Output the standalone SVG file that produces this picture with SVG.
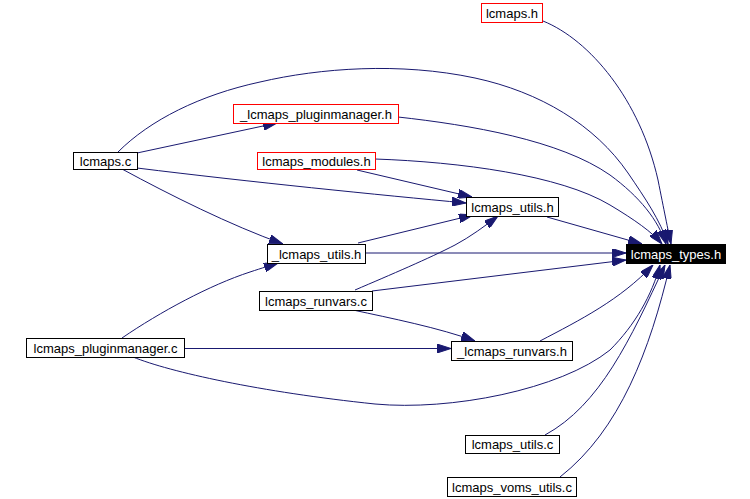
<svg xmlns="http://www.w3.org/2000/svg" width="750" height="499" viewBox="0 0 750 499">
<style>
.n rect{fill:#fff;stroke:#000;stroke-width:1}
.n.red rect{stroke:#f00}
.n text{font-family:"Liberation Sans",Arial,sans-serif;font-size:13px;text-anchor:middle;fill:#000}
#types rect{fill:#000;stroke:#000}
#types text{fill:#fff}
#edges path{fill:none;stroke:#191970;stroke-width:1;marker-end:url(#ah)}
</style>
<defs>
<marker id="ah" viewBox="0 0 14 9" refX="14" refY="4.5" markerWidth="14" markerHeight="9" markerUnits="userSpaceOnUse" orient="auto">
<path d="M0,0 L14,4.5 L0,9 z" fill="#191970" stroke="#191970"/>
</marker>
</defs>
<rect width="750" height="499" fill="#fff"/>
<g id="edges">
<path d="M543,21 C590,40 640,100 658,180 C664,210 668,230 671,244"/>
<path d="M118,152 C150,120 200,95 260,82 C320,68 400,62 475,78 C540,92 595,125 628,173 C645,198 660,220 668,244"/>
<path d="M137,153 L277,123"/>
<path d="M137,168 C250,182 380,195 466,203"/>
<path d="M122,169 C170,195 230,225 283,244"/>
<path d="M398,117 C470,125 560,140 610,175 C640,197 658,220 666,244"/>
<path d="M375,159 C460,162 560,175 610,205 C635,220 652,232 662,244"/>
<path d="M357,170 L472,197"/>
<path d="M547,217 L642,244"/>
<path d="M365,253 L626,253"/>
<path d="M358,243 L473,215"/>
<path d="M355,290 C390,275 430,258 455,245 C470,237 485,226 498,216"/>
<path d="M372,291 L626,260"/>
<path d="M353,310 C390,318 440,328 475,341"/>
<path d="M122,338 C160,312 210,285 250,272 C262,268 272,265 278,263"/>
<path d="M184,348.5 L451,348.5"/>
<path d="M133,357 C170,372 260,392 375,404 C450,411 560,390 610,350 C635,325 652,295 660,265"/>
<path d="M540,341 C580,320 620,300 653,265"/>
<path d="M545,435 C600,405 630,340 665,265"/>
<path d="M560,477 C620,430 650,350 670,265"/>
</g>
<g id="lcmaps_h" class="n red"><rect x="481.5" y="3.5" width="61" height="19"/><text x="512" y="18">lcmaps.h</text></g>
<g id="lcmaps_c" class="n"><rect x="73.5" y="152.5" width="64" height="17"/><text x="105.5" y="166">lcmaps.c</text></g>
<g id="_lcmaps_pluginmanager_h" class="n red"><rect x="233.5" y="104.5" width="165" height="19"/><text x="316" y="119">_lcmaps_pluginmanager.h</text></g>
<g id="lcmaps_modules_h" class="n red"><rect x="257.5" y="152.5" width="118" height="17"/><text x="316.5" y="166">lcmaps_modules.h</text></g>
<g id="lcmaps_utils_h" class="n"><rect x="466.5" y="197.5" width="92" height="19"/><text x="512.5" y="212">lcmaps_utils.h</text></g>
<g id="_lcmaps_utils_h" class="n"><rect x="267.5" y="244.5" width="98" height="19"/><text x="316.5" y="259">_lcmaps_utils.h</text></g>
<g id="types" class="n"><rect x="626.5" y="244.5" width="99" height="19"/><text x="676" y="259">lcmaps_types.h</text></g>
<g id="lcmaps_runvars_c" class="n"><rect x="259.5" y="291.5" width="113" height="19"/><text x="316" y="306">lcmaps_runvars.c</text></g>
<g id="lcmaps_pluginmanager_c" class="n"><rect x="26.5" y="338.5" width="158" height="19"/><text x="105.5" y="353">lcmaps_pluginmanager.c</text></g>
<g id="_lcmaps_runvars_h" class="n"><rect x="451.5" y="341.5" width="121" height="19"/><text x="512" y="356">_lcmaps_runvars.h</text></g>
<g id="lcmaps_utils_c" class="n"><rect x="465.5" y="435.5" width="94" height="18"/><text x="512.5" y="449">lcmaps_utils.c</text></g>
<g id="lcmaps_voms_utils_c" class="n"><rect x="447.5" y="477.5" width="129" height="19"/><text x="512" y="492">lcmaps_voms_utils.c</text></g>
</svg>
